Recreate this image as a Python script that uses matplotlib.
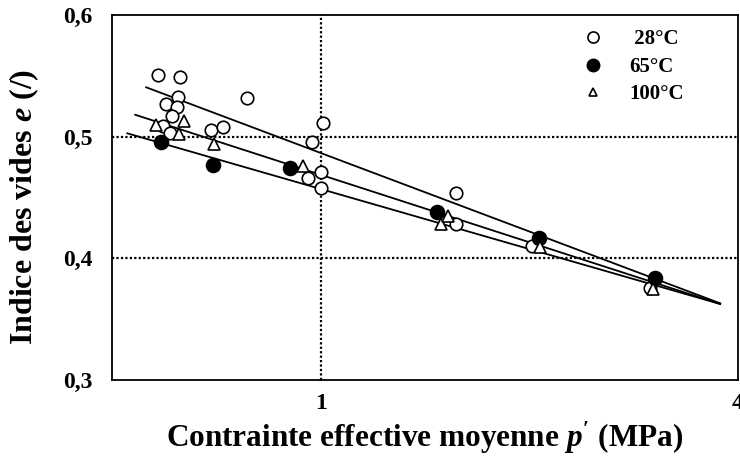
import matplotlib
matplotlib.use("Agg")
import matplotlib.pyplot as plt
from matplotlib.lines import Line2D
import numpy as np

plt.rcParams['font.family'] = ['Liberation Serif', 'DejaVu Serif']
plt.rcParams['font.weight'] = 'bold'
plt.rcParams['mathtext.fontset'] = 'custom'
plt.rcParams['mathtext.rm'] = 'Liberation Serif:bold'
plt.rcParams['mathtext.it'] = 'Liberation Serif:bold:italic'

# 28°C (open circles)
p_28 = [0.582, 0.627, 0.622, 0.598, 0.621, 0.611, 0.592, 0.606, 0.695, 0.722,
        0.784, 1.009, 0.973, 1.0, 0.960, 1.0, 1.567, 1.57, 2.018, 2.99]
e_28 = [0.551, 0.549, 0.533, 0.527, 0.524, 0.517, 0.509, 0.503, 0.5055, 0.508,
        0.532, 0.511, 0.496, 0.471, 0.466, 0.458, 0.454, 0.428, 0.410, 0.376]

# 65°C (filled circles)
p_65 = [0.588, 0.700, 0.902, 1.471, 2.063, 3.04]
e_65 = [0.496, 0.477, 0.474, 0.438, 0.417, 0.384]

# 100°C (triangles)
p_100 = [0.578, 0.636, 0.625, 0.702, 0.943, 1.49, 1.526, 2.07, 3.02]
e_100 = [0.510, 0.513, 0.502, 0.494, 0.476, 0.428, 0.435, 0.409, 0.375]

# trend lines e = e1 - Cs*log10(p), drawn between p_min and p_max
fit_e1 = [0.4866, 0.4687, 0.4570]
fit_cs = [0.2144, 0.1843, 0.1640]
fit_pmin = [0.560, 0.540, 0.526]
fit_pmax = [3.77, 3.77, 3.77]

yticks = [0.3, 0.4, 0.5, 0.6]
ylabels = ['0,3', '0,4', '0,5', '0,6']
xticks = [1, 4]
xlabels = ['1', '4']

fig = plt.figure(figsize=(7.4, 4.59), dpi=100)
ax = fig.add_axes([0.1514, 0.1721, 0.9973 - 0.1514, 0.9673 - 0.1721])
ax.set_xscale('log')
ax.set_xlim(0.5, 4)
ax.set_ylim(0.3, 0.6)

for e1, cs, pa, pb in zip(fit_e1, fit_cs, fit_pmin, fit_pmax):
    pp = np.array([pa, pb])
    ax.plot(pp, e1 - cs * np.log10(pp), color='black', lw=1.3, zorder=2)

ax.plot(p_28, e_28, 'o', ms=9, mfc='white', mec='black', mew=1.2, zorder=3)
ax.plot(p_65, e_65, 'o', ms=10, mfc='black', mec='black', mew=1.2, zorder=4)
ax.plot(p_100, e_100, '^', ms=8, mfc='white', mec='black', mew=1.2, zorder=4)

ax.axvline(1, color='black', lw=1.6, ls=(0, (1, 1)), zorder=1)
for yy in [0.4, 0.5]:
    ax.axhline(yy, color='black', lw=1.6, ls=(0, (1, 1)), zorder=1)

ax.set_yticks(yticks)
ax.set_yticklabels(ylabels)
ax.set_xticks(xticks)
ax.set_xticklabels(xlabels)
ax.minorticks_off()
ax.tick_params(length=0, labelsize=17)
ax.tick_params(axis='y', pad=14)
ax.tick_params(axis='x', pad=9)
for lab in ax.get_xticklabels() + ax.get_yticklabels():
    lab.set_fontweight('bold')
for s in ax.spines.values():
    s.set_linewidth(1.3)

ax.set_xlabel(r"Contrainte effective moyenne $p^{\prime}$ (MPa)", fontsize=22.5,
              fontweight='bold')
ax.xaxis.set_label_coords(0.5, -0.108)
ax.set_ylabel("Indice des vides $e$ (/)", fontsize=23, fontweight='bold')
ax.yaxis.set_label_coords(-0.113, 0.475)

handles = [
    Line2D([], [], ls='none', marker='o', ms=8, mfc='white', mec='black', mew=1.2),
    Line2D([], [], ls='none', marker='o', ms=9, mfc='black', mec='black'),
    Line2D([], [], ls='none', marker='^', ms=6, mfc='white', mec='black', mew=1.2),
]
ax.legend(handles, [' 28°C', '65°C', '100°C'], loc='upper left',
          bbox_to_anchor=(0.705, 1.012), frameon=False, prop={'weight': 'bold', 'size': 15},
          handletextpad=0.75, labelspacing=0.36)

fig.savefig('out.png', dpi=100)
